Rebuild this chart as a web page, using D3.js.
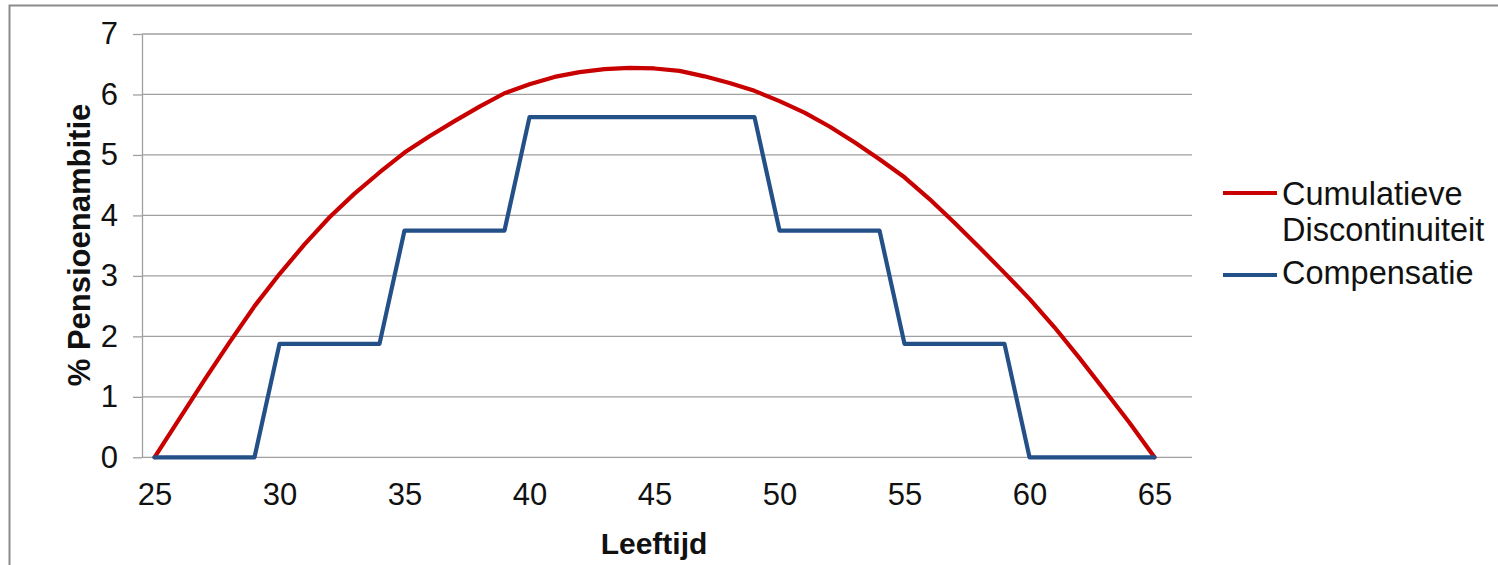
<!DOCTYPE html>
<html>
<head>
<meta charset="utf-8">
<script src="https://cdn.jsdelivr.net/npm/d3@7"></script>
<style>
  html, body { margin: 0; padding: 0; background: #fff; }
  svg { display: block; font-family: "Liberation Sans", Arial, sans-serif; }
</style>
</head>
<body>
<svg id="chart" width="1498" height="565"></svg>
<script>
// ---- Data ----
const ages = d3.range(25, 67); // 25..66 (66 is an empty category)
const ageLabels = [25, 30, 35, 40, 45, 50, 55, 60, 65];
const cumulatief = [0, 0.64, 1.28, 1.9, 2.5, 3.03, 3.52, 3.97, 4.36, 4.71,
  5.04, 5.31, 5.56, 5.8, 6.02, 6.17, 6.29, 6.37, 6.42, 6.44,
  6.43, 6.39, 6.3, 6.19, 6.06, 5.89, 5.7, 5.47, 5.21, 4.93,
  4.63, 4.27, 3.88, 3.47, 3.05, 2.62, 2.15, 1.64, 1.11, 0.57, 0];
const compensatie = [0, 0, 0, 0, 0, 1.875, 1.875, 1.875, 1.875, 1.875,
  3.75, 3.75, 3.75, 3.75, 3.75, 5.625, 5.625, 5.625, 5.625, 5.625,
  5.625, 5.625, 5.625, 5.625, 5.625, 3.75, 3.75, 3.75, 3.75, 3.75,
  1.875, 1.875, 1.875, 1.875, 1.875, 0, 0, 0, 0, 0, 0];
const yTicks = [0, 1, 2, 3, 4, 5, 6, 7];
const seriesNames = ["Cumulatieve Discontinuiteit", "Compensatie"];
const seriesColors = ["#C80000", "#245088"];

// ---- Layout ----
const svg = d3.select("#chart");
const pLeft = 142, pRight = 1192, pTop = 34, pBottom = 457.3;

svg.append("rect").attr("x", 9.5).attr("y", 5.5).attr("width", 1600).attr("height", 700)
  .attr("fill", "none").attr("stroke", "#8c8c8c").attr("stroke-width", 2);

const x = d3.scalePoint().domain(ages).range([pLeft, pRight]).padding(0.5);
const y = d3.scaleLinear().domain([0, 7]).range([pBottom, pTop]);

// gridlines
svg.append("g").selectAll("line").data(yTicks).join("line")
  .attr("x1", pLeft).attr("x2", pRight)
  .attr("y1", d => y(d)).attr("y2", d => y(d))
  .attr("stroke", "#a0a0a0").attr("stroke-width", 1.3);

// y axis
const yAxis = d3.axisLeft(y).tickValues(yTicks).tickSize(9).tickSizeOuter(0).tickFormat(d3.format("d"));
const gy = svg.append("g").attr("transform", `translate(${pLeft},0)`).call(yAxis);
gy.select(".domain").attr("stroke", "#a0a0a0").attr("stroke-width", 1.3);
gy.selectAll(".tick line").attr("stroke", "#a0a0a0").attr("stroke-width", 1.3);
gy.selectAll(".tick text").attr("font-size", 31).attr("fill", "#111").attr("x", -24)
  .attr("font-family", "Liberation Sans, Arial, sans-serif");

// x axis labels
const xAxis = d3.axisBottom(x).tickValues(ageLabels).tickSize(0);
const gx = svg.append("g").attr("transform", `translate(0,${pBottom})`).call(xAxis);
gx.select(".domain").remove();
gx.selectAll(".tick text").attr("font-size", 31).attr("fill", "#111").attr("dy", "0").attr("y", 48)
  .attr("font-family", "Liberation Sans, Arial, sans-serif");

// series
const line = d3.line().x((d, i) => x(ages[i])).y(d => y(d));
[cumulatief, compensatie].forEach((s, k) => {
  svg.append("path").datum(s).attr("d", line)
    .attr("fill", "none").attr("stroke", seriesColors[k]).attr("stroke-width", 4.2)
    .attr("stroke-linejoin", "round").attr("stroke-linecap", "round");
});

// axis titles
svg.append("text").attr("x", 654).attr("y", 554).attr("text-anchor", "middle")
  .attr("font-size", 30).attr("font-weight", "bold").attr("fill", "#111").text("Leeftijd");
svg.append("text").attr("transform", "translate(90,245) rotate(-90)").attr("text-anchor", "middle")
  .attr("font-size", 31).attr("font-weight", "bold").attr("fill", "#111").text("% Pensioenambitie");

// legend
const leg = svg.append("g");
leg.append("line").attr("x1", 1223).attr("x2", 1277).attr("y1", 193).attr("y2", 193)
  .attr("stroke", seriesColors[0]).attr("stroke-width", 4.2);
leg.append("text").attr("x", 1282).attr("y", 205).attr("font-size", 32.5).attr("fill", "#111").text("Cumulatieve");
leg.append("text").attr("x", 1282).attr("y", 241).attr("font-size", 32.5).attr("fill", "#111").text("Discontinuiteit");
leg.append("line").attr("x1", 1223).attr("x2", 1277).attr("y1", 275).attr("y2", 275)
  .attr("stroke", seriesColors[1]).attr("stroke-width", 4.2);
leg.append("text").attr("x", 1282).attr("y", 284).attr("font-size", 32.5).attr("fill", "#111").text("Compensatie");
</script>
</body>
</html>
